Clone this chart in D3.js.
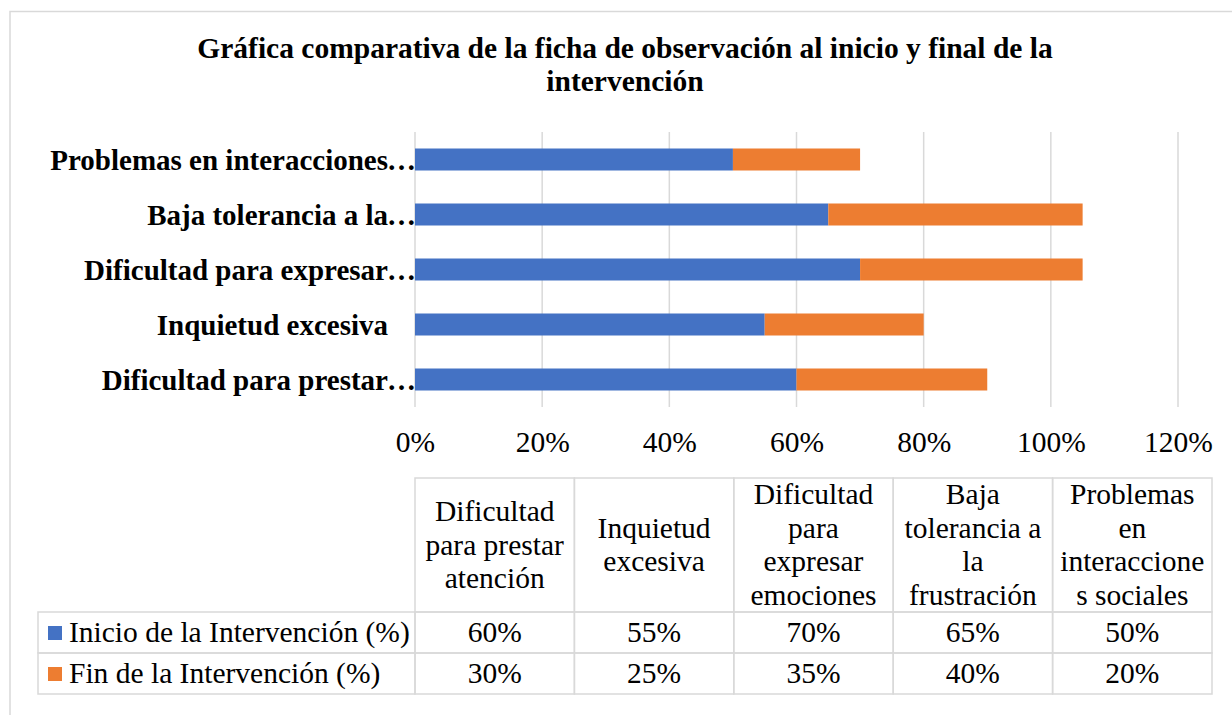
<!DOCTYPE html>
<html>
<head>
<meta charset="utf-8">
<script src="https://cdn.jsdelivr.net/npm/d3@7"></script>
<style>
  body { margin: 0; background: #fff; }
  svg { font-family: "Liberation Serif", "Times New Roman", serif; }
</style>
</head>
<body>
<div id="chart-area"></div>
<script>
// data
var categories = [
  "Dificultad para prestar atención",
  "Inquietud excesiva",
  "Dificultad para expresar emociones",
  "Baja tolerancia a la frustración",
  "Problemas en interacciones sociales"
];
var seriesNames = ["Inicio de la Intervención (%)", "Fin de la Intervención (%)"];
var inicio = [0.60, 0.55, 0.70, 0.65, 0.50];
var fin = [0.30, 0.25, 0.35, 0.40, 0.20];
var tickValues = [0, 0.2, 0.4, 0.6, 0.8, 1.0, 1.2];
var colors = ["#4472C4", "#ED7D31"];
var titleText = "Gráfica comparativa de la ficha de observación al inicio y final de la intervención";

var W = 1232, H = 715;
var FS = 29.5;
var plot = { left: 415, right: 1178, top: 132, bottom: 407 };
var table = { left: 415, right: 1212, top: 478, headBottom: 612, rowH: 41, legendLeft: 38 };

var svg = d3.select("#chart-area")
  .append("svg")
  .attr("width", W)
  .attr("height", H);

// chart border
svg.append("rect")
  .attr("x", 10).attr("y", 11.5)
  .attr("width", 1240).attr("height", 720)
  .attr("fill", "none")
  .attr("stroke", "#d9d9d9")
  .attr("stroke-width", 1.5);

var probe = svg.append("text").attr("visibility", "hidden");
function measurer(size, weight) {
  return function(s) {
    probe.attr("font-size", size).attr("font-weight", weight).text(s);
    return probe.node().getComputedTextLength();
  };
}

// word wrap; words that are too long get broken like Excel does
function wrapText(text, maxW, measure) {
  var lines = [], cur = "";
  text.split(" ").forEach(function(w) {
    var t = cur ? cur + " " + w : w;
    if (measure(t) <= maxW) { cur = t; return; }
    if (cur) { lines.push(cur); cur = ""; }
    while (measure(w) > maxW) {
      var n = w.length;
      while (n > 1 && measure(w.slice(0, n)) > maxW) n--;
      lines.push(w.slice(0, n));
      w = w.slice(n);
    }
    cur = w;
  });
  if (cur) lines.push(cur);
  return lines;
}

// title
var titleLines = wrapText(titleText, 900, measurer(FS, "bold"));
svg.append("text")
  .attr("text-anchor", "middle")
  .attr("font-weight", "bold")
  .attr("font-size", FS)
  .attr("fill", "#000")
  .selectAll("tspan")
  .data(titleLines)
  .enter().append("tspan")
  .attr("x", 625)
  .attr("y", (d, i) => 58 + i * 33)
  .text(d => d);

// scales
var x = d3.scaleLinear().domain([0, 1.2]).range([plot.left, plot.right]);
var y = d3.scaleBand()
  .domain(categories.slice().reverse())
  .range([plot.top, plot.bottom])
  .paddingInner(0.6)
  .paddingOuter(0.3);

// gridlines
svg.append("g")
  .selectAll("line")
  .data(tickValues)
  .enter().append("line")
  .attr("x1", d => x(d)).attr("x2", d => x(d))
  .attr("y1", plot.top).attr("y2", plot.bottom)
  .attr("stroke", "#d9d9d9")
  .attr("stroke-width", 1.5);

// x axis tick labels
var xAxis = d3.axisBottom(x)
  .tickValues(tickValues)
  .tickFormat(d3.format(".0%"))
  .tickSize(0)
  .tickPadding(0);
var xAxisGroup = svg.append("g")
  .attr("transform", "translate(0," + 452 + ")")
  .call(xAxis);
xAxisGroup.select(".domain").remove();
xAxisGroup.selectAll("text")
  .attr("dy", 0)
  .attr("y", 0)
  .attr("font-family", "Liberation Serif, Times New Roman, serif")
  .attr("font-size", FS)
  .attr("fill", "#000");

// stacked bars
var rows = categories.map((c, i) => ({ cat: c, v0: inicio[i], v1: fin[i] }));
var bars = svg.append("g");
bars.selectAll(".b0")
  .data(rows)
  .enter().append("rect")
  .attr("x", d => x(0))
  .attr("y", d => y(d.cat))
  .attr("width", d => x(d.v0) - x(0))
  .attr("height", y.bandwidth())
  .attr("fill", colors[0]);
bars.selectAll(".b1")
  .data(rows)
  .enter().append("rect")
  .attr("x", d => x(d.v0))
  .attr("y", d => y(d.cat))
  .attr("width", d => x(d.v0 + d.v1) - x(d.v0))
  .attr("height", y.bandwidth())
  .attr("fill", colors[1]);

// category labels, cut with an ellipsis like Excel
var labW = measurer(29, "bold");
var labelG = svg.append("g")
  .attr("font-size", 29)
  .attr("font-weight", "bold")
  .attr("fill", "#000");
categories.forEach(function(c) {
  var words = c.split(" "), shown = "";
  for (var k = 0; k < words.length; k++) {
    var t = shown ? shown + " " + words[k] : words[k];
    if (labW(t) > 345) break;
    shown = t;
  }
  var cy = y(c) + y.bandwidth() / 2 + 10;
  labelG.append("text")
    .attr("x", 388).attr("y", cy)
    .attr("text-anchor", "end")
    .text(shown);
  if (shown !== c) {
    labelG.append("text")
      .attr("x", 387).attr("y", cy)
      .text("…");
  }
});

// data table
var colW = (table.right - table.left) / categories.length;
var tg = svg.append("g")
  .attr("font-size", FS)
  .attr("fill", "#000");
var lineColor = "#d9d9d9";

tg.selectAll(".hcell")
  .data(categories)
  .enter().append("rect")
  .attr("x", (d, i) => table.left + i * colW)
  .attr("y", table.top)
  .attr("width", colW)
  .attr("height", table.headBottom - table.top)
  .attr("fill", "none")
  .attr("stroke", lineColor)
  .attr("stroke-width", 1.5);

[0, 1].forEach(function(r) {
  var top = table.headBottom + r * table.rowH;
  tg.append("rect")
    .attr("x", table.legendLeft).attr("y", top)
    .attr("width", table.left - table.legendLeft)
    .attr("height", table.rowH)
    .attr("fill", "none").attr("stroke", lineColor).attr("stroke-width", 1.5);
  categories.forEach(function(c, i) {
    tg.append("rect")
      .attr("x", table.left + i * colW).attr("y", top)
      .attr("width", colW).attr("height", table.rowH)
      .attr("fill", "none").attr("stroke", lineColor).attr("stroke-width", 1.5);
  });
});

// header text
var regW = measurer(FS, "normal");
var headMid = (table.top + table.headBottom) / 2;
categories.forEach(function(c, i) {
  var lines = wrapText(c, 150, regW);
  var t = tg.append("text").attr("text-anchor", "middle");
  lines.forEach(function(l, k) {
    t.append("tspan")
      .attr("x", table.left + (i + 0.5) * colW)
      .attr("y", headMid + (k - (lines.length - 1) / 2) * 33.5 + 9.5)
      .text(l);
  });
});

// values and legend keys
var pct = d3.format(".0%");
[inicio, fin].forEach(function(vals, r) {
  var base = table.headBottom + r * table.rowH + 30;
  tg.selectAll(".v" + r)
    .data(vals)
    .enter().append("text")
    .attr("x", (d, i) => table.left + (i + 0.5) * colW)
    .attr("y", base)
    .attr("text-anchor", "middle")
    .text(d => pct(d));
  tg.append("rect")
    .attr("x", 48).attr("y", table.headBottom + r * table.rowH + 14)
    .attr("width", 14).attr("height", 14)
    .attr("fill", colors[r]);
  tg.append("text")
    .attr("x", 69).attr("y", base)
    .text(seriesNames[r]);
});

probe.remove();
</script>
</body>
</html>
